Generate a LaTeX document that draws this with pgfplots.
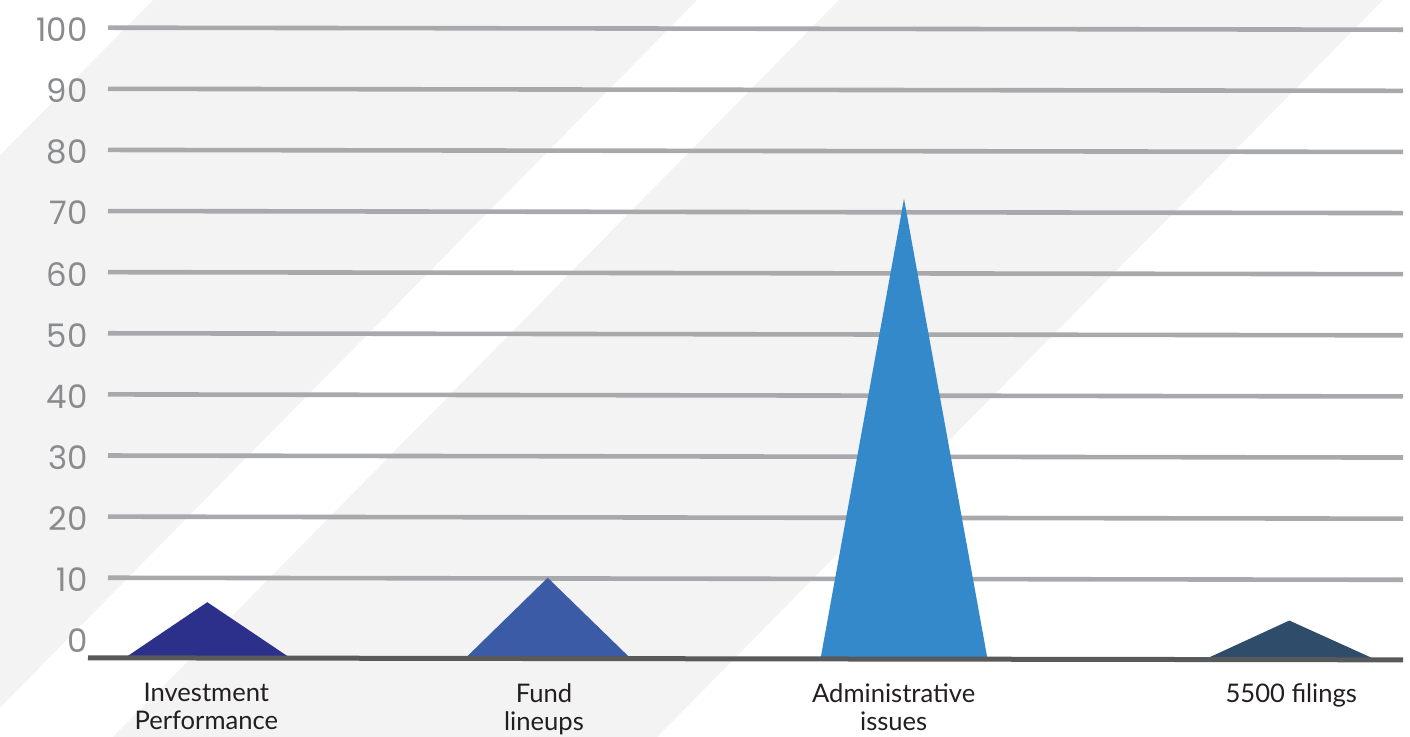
\documentclass[border=0pt]{standalone}
\usepackage{pgfplots}
\pgfplotsset{compat=1.18}
\usepackage{fontspec}
\setmainfont{Lato}
\newfontfamily\tickfont{Poppins}
\newfontfamily\catfont{Lato}
\definecolor{bgc}{RGB}{243,243,243}
\definecolor{gridc}{RGB}{167,169,172}
\definecolor{basec}{RGB}{88,89,91}
\definecolor{tickc}{RGB}{138,139,142}
\definecolor{catc}{RGB}{35,31,32}
\definecolor{c1}{RGB}{44,48,139}
\definecolor{c2}{RGB}{59,91,166}
\definecolor{c3}{RGB}{51,137,202}
\definecolor{c4}{RGB}{47,77,107}
\begin{document}
\begin{tikzpicture}
% background stripes (pixel units, y flipped)
\begin{scope}[x=0.5pt,y=0.5pt]
\fill[white] (0,0) rectangle (1410,736);
\clip (0,0) rectangle (1410,736);
\fill[bgc] (202.25,786) -- (746.25,786) -- (-91,-64) -- (-635,-64) -- cycle;
\fill[bgc] (888.25,786) -- (1432.25,786) -- (595,-64) -- (51,-64) -- cycle;
\end{scope}
\begin{axis}[
  at={(0,0)}, anchor=south west,
  scale only axis, width=705pt, height=368pt,
  xmin=0, xmax=1410, ymin=-15.89, ymax=104.53,
  axis line style={draw=none}, tick style={draw=none},
  major tick length=0pt,
  ytick={0,10,...,100},
  /pgf/number format/assume math mode=true,
  yticklabel style={font=\tickfont\fontsize{16.2}{16}\selectfont, text=tickc, anchor=east, inner sep=0pt, xshift=44pt, yshift=-1pt},
  xtick={206.3,544,893.7,1291.3},
  xticklabels={{Investment\\Performance},{Fund\\lineups},{Administrative\\issues},{5500 filings}},
  xticklabel style={font=\catfont\fontsize{12.8}{14}\selectfont, text=catc, align=center, anchor=north, inner sep=0pt, yshift=26.5pt},
]
% grid lines (slightly slanted as in the original)
\addplot[gridc, line width=2.3pt] coordinates {(108,10) (1403,9.67)};
\addplot[gridc, line width=2.3pt] coordinates {(108,20) (1403,19.67)};
\addplot[gridc, line width=2.3pt] coordinates {(108,30) (1403,29.67)};
\addplot[gridc, line width=2.3pt] coordinates {(108,40) (1403,39.67)};
\addplot[gridc, line width=2.3pt] coordinates {(108,50) (1403,49.67)};
\addplot[gridc, line width=2.3pt] coordinates {(108,60) (1403,59.67)};
\addplot[gridc, line width=2.3pt] coordinates {(108,70) (1403,69.67)};
\addplot[gridc, line width=2.3pt] coordinates {(108,80) (1403,79.67)};
\addplot[gridc, line width=2.3pt] coordinates {(108,90) (1403,89.67)};
\addplot[gridc, line width=2.3pt] coordinates {(108,100) (1403,99.67)};
% triangles
\addplot[fill=c1, draw=none] coordinates {(125,-3.1) (207.3,6) (290,-3.1)} -- cycle;
\addplot[fill=c2, draw=none] coordinates {(465.7,-3.1) (547.7,10) (630,-3.1)} -- cycle;
\addplot[fill=c3, draw=none] coordinates {(820.7,-3.1) (904,72) (987.3,-3.1)} -- cycle;
\addplot[fill=c4, draw=none] coordinates {(1208.3,-3.1) (1289.3,3) (1371.7,-3.1)} -- cycle;
% baseline
\addplot[basec, line width=2.5pt] coordinates {(88,-3.1) (1403,-3.43)};
\end{axis}
\pgfresetboundingbox
\useasboundingbox (0,0) rectangle (705pt,368pt);
\end{tikzpicture}
\end{document}
